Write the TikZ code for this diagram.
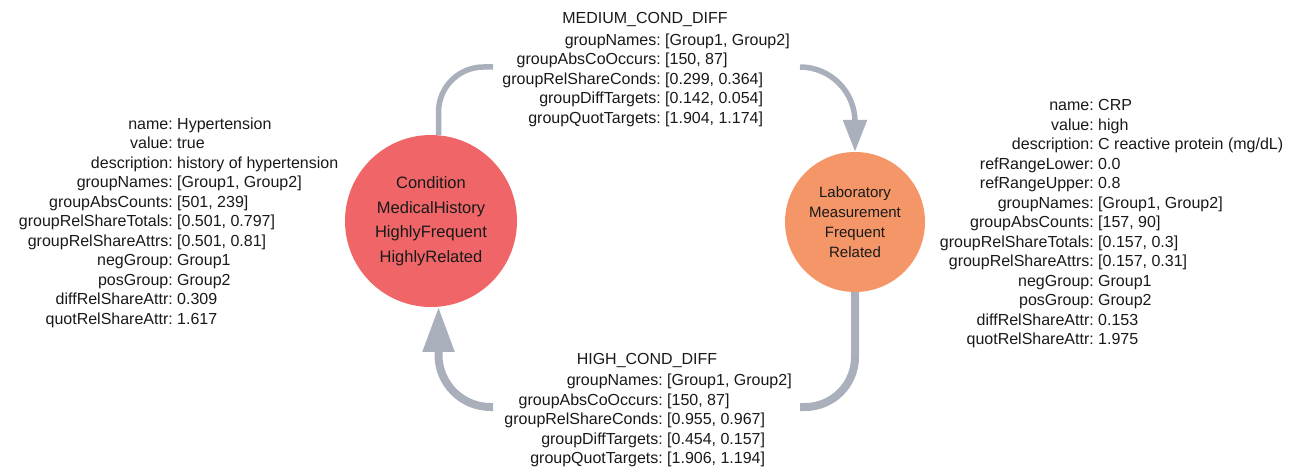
\documentclass[tikz,border=0pt]{standalone}
\usepackage{fontspec}
\setmainfont{Liberation Sans}
\usetikzlibrary{arrows.meta}
\definecolor{condred}{RGB}{240,102,104}
\definecolor{laborange}{RGB}{245,150,104}
\definecolor{edgegray}{RGB}{169,175,187}
\definecolor{txt}{RGB}{25,25,25}
\begin{document}
\begin{tikzpicture}[x=1pt,y=-1pt,
  keys/.style={font=\fontsize{16}{19.5}\selectfont, text=txt, inner sep=0pt, align=right, anchor=north east},
  vals/.style={font=\fontsize{16}{19.5}\selectfont, text=txt, inner sep=0pt, align=left, anchor=north west},
  titletext/.style={font=\fontsize{16}{19.5}\selectfont, text=txt, inner sep=0pt, anchor=base},
  concept/.style={circle, inner sep=0pt, text=txt, align=center},
  edgeline/.style={draw=edgegray, line cap=butt},
  thinedge/.style={edgeline, line width=5.5pt},
  thickedge/.style={edgeline, line width=8pt},
]
\useasboundingbox (0,0) rectangle (1297,468);

% concept nodes
\node[concept, fill=condred, minimum size=172pt,
      font=\fontsize{16.5}{24.5}\selectfont] (cond) at (431,221)
  {Condition\\MedicalHistory\\HighlyFrequent\\HighlyRelated};
\node[concept, fill=laborange, minimum size=140pt,
      font=\fontsize{15}{20}\selectfont] (lab) at (855,222)
  {Laboratory\\Measurement\\Frequent\\Related};

% left attribute block
\node[keys] (condk) at (173,115.4) {\strut name:\\value:\\description:\\groupNames:\\groupAbsCounts:\\groupRelShareTotals:\\groupRelShareAttrs:\\negGroup:\\posGroup:\\diffRelShareAttr:\\quotRelShareAttr:};
\node[vals] (condv) at (177,115.4) {\strut Hypertension\\true\\history of hypertension\\{[}Group1, Group2{]}\\{[}501, 239{]}\\{[}0.501, 0.797{]}\\{[}0.501, 0.81{]}\\Group1\\Group2\\0.309\\1.617};

% right attribute block
\node[keys] (labk) at (1094,97) {\strut name:\\value:\\description:\\refRangeLower:\\refRangeUpper:\\groupNames:\\groupAbsCounts:\\groupRelShareTotals:\\groupRelShareAttrs:\\negGroup:\\posGroup:\\diffRelShareAttr:\\quotRelShareAttr:};
\node[vals] (labv) at (1098,97) {\strut CRP\\high\\C reactive protein (mg/dL)\\0.0\\0.8\\{[}Group1, Group2{]}\\{[}157, 90{]}\\{[}0.157, 0.3{]}\\{[}0.157, 0.31{]}\\Group1\\Group2\\0.153\\1.975};

% medium edge label
\node[titletext] (medt) at (645,24) {MEDIUM\_COND\_DIFF};
\node[keys] (medk) at (661,31.4) {\strut groupNames:\\groupAbsCoOccurs:\\groupRelShareConds:\\groupDiffTargets:\\groupQuotTargets:};
\node[vals] (medv) at (665,31.4) {\strut {[}Group1, Group2{]}\\{[}150, 87{]}\\{[}0.299, 0.364{]}\\{[}0.142, 0.054{]}\\{[}1.904, 1.174{]}};

% high edge label
\node[titletext] (hight) at (647,364) {HIGH\_COND\_DIFF};
\node[keys] (highk) at (663,372) {\strut groupNames:\\groupAbsCoOccurs:\\groupRelShareConds:\\groupDiffTargets:\\groupQuotTargets:};
\node[vals] (highv) at (667,372) {\strut {[}Group1, Group2{]}\\{[}150, 87{]}\\{[}0.955, 0.967{]}\\{[}0.454, 0.157{]}\\{[}1.906, 1.194{]}};

% edges
\coordinate (m1) at (493,67);
\coordinate (m2) at (800,67);
\coordinate (h1) at (800,407);
\coordinate (h2) at (493,407);
\draw[thinedge, rounded corners=45pt] (cond.85) |- (m1);
\draw[thinedge, rounded corners=55pt, -{Triangle[length=32pt,width=23pt]}] (m2) -| (lab.north);
\draw[thickedge, rounded corners=50pt] (lab.south) |- (h1);
\draw[thickedge, rounded corners=52pt, -{Triangle[length=45pt,width=30pt]}] (h2) -| (cond.-85);
\end{tikzpicture}
\end{document}
